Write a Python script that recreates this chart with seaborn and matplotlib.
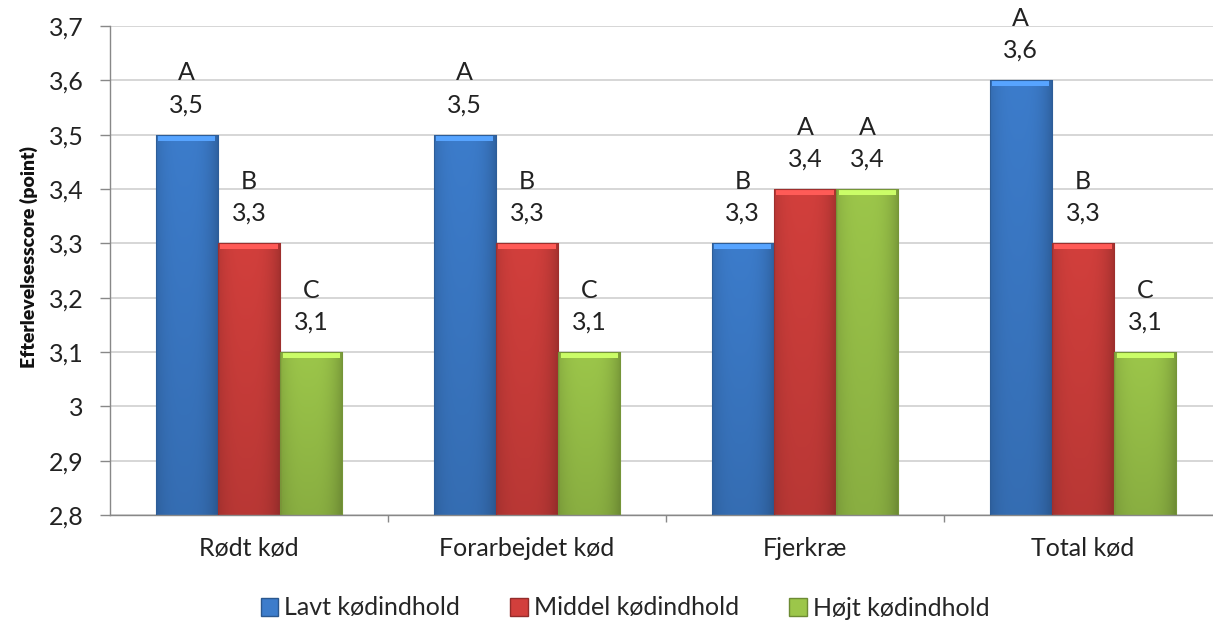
import numpy as np
import pandas as pd
import matplotlib
matplotlib.use("Agg")
import matplotlib.pyplot as plt
import matplotlib.colors as mcolors
from matplotlib.patches import Rectangle
import seaborn as sns

categories = ["Rødt kød", "Forarbejdet kød", "Fjerkræ", "Total kød"]
series = ["Lavt kødindhold", "Middel kødindhold", "Højt kødindhold"]
lavt = [3.5, 3.5, 3.3, 3.6]
middel = [3.3, 3.3, 3.4, 3.3]
hojt = [3.1, 3.1, 3.4, 3.1]
letters_lavt = ["A", "A", "B", "A"]
letters_middel = ["B", "B", "A", "B"]
letters_hojt = ["C", "C", "A", "C"]
y_ticks = [2.8, 2.9, 3.0, 3.1, 3.2, 3.3, 3.4, 3.5, 3.6, 3.7]
y_tick_labels = ["2,8", "2,9", "3", "3,1", "3,2", "3,3", "3,4", "3,5", "3,6", "3,7"]
ylabel = "Efterlevelsesscore (point)"
colors = ["#3C7CCB", "#D23F3C", "#9CC64A"]

rows = []
for s, vals, lets in zip(series, [lavt, middel, hojt],
                         [letters_lavt, letters_middel, letters_hojt]):
    for c, v, l in zip(categories, vals, lets):
        rows.append({"Kategori": c, "Serie": s, "Værdi": v, "Bogstav": l})
df = pd.DataFrame(rows)

sns.set_theme(style="white")
plt.rcParams["font.family"] = ["Lato", "DejaVu Sans"]

FS = 18

fig = plt.figure(figsize=(12.13, 6.23), dpi=100)
ax = fig.add_axes([110 / 1213, 1 - 515 / 623, 1112 / 1213, (515 - 26) / 623])

sns.barplot(data=df, x="Kategori", y="Værdi", hue="Serie", order=categories,
            hue_order=series, palette=colors, width=0.672, ax=ax,
            legend=True, saturation=1, zorder=2)

ax.set_ylim(2.8, 3.7)
ax.set_xlim(-0.5, 3.5)
ax.set_yticks(y_ticks)
ax.set_yticklabels(y_tick_labels)
ax.yaxis.grid(True, color="#D0D0D0", linewidth=1.2, zorder=0)
ax.set_axisbelow(True)


def shade(color, edge_dark=0.78):
    rgb = np.array(mcolors.to_rgb(color))
    nx, ny = 60, 200
    xs = np.linspace(0, 1, nx)
    hx = 1.0 - (1 - edge_dark) * (np.abs(xs - 0.45) / 0.55) ** 3
    img = np.ones((ny, nx, 3))
    for i in range(3):
        img[:, :, i] = rgb[i] * hx[None, :]
    ys = np.linspace(0, 1, ny)
    vy = 1.0 - 0.12 * ys
    img = img * vy[:, None, None]
    return np.clip(img, 0, 1)


containers = list(ax.containers)
for cont in containers:
    for p in cont:
        fc = p.get_facecolor()
        x0, w = p.get_x(), p.get_width()
        y1 = p.get_y() + p.get_height()
        img = shade(fc)
        im = ax.imshow(img, extent=[x0, x0 + w, 2.8, y1], aspect="auto",
                       origin="upper", zorder=2.5)
        im.set_clip_path(p)
        bev = 0.011
        light = np.clip(np.array(mcolors.to_rgb(fc)) * 1.2 + 0.06, 0, 1)
        ax.add_patch(Rectangle((x0 + w * 0.04, y1 - bev), w * 0.92, bev,
                               facecolor=light, edgecolor="none", zorder=2.6))
        p.set_edgecolor(tuple(np.array(mcolors.to_rgb(fc)) * 0.75))
        p.set_linewidth(0.8)
        p.set_zorder(2.7)
        p.set_facecolor("none")

ax.set_xlim(-0.5, 3.5)
ax.set_ylim(2.8, 3.7)

for cont, vals, lets in zip(containers, [lavt, middel, hojt],
                            [letters_lavt, letters_middel, letters_hojt]):
    for bar, v, l in zip(cont, vals, lets):
        xc = bar.get_x() + bar.get_width() / 2
        top = bar.get_y() + bar.get_height()
        ax.annotate(str(v).replace(".", ","), (xc, top), xytext=(0, 30),
                    textcoords="offset pixels", ha="center", va="center",
                    fontsize=FS, color="#222222")
        ax.annotate(l, (xc, top), xytext=(0, 62), textcoords="offset pixels",
                    ha="center", va="center", fontsize=FS, color="#222222")

for s in ["top", "right"]:
    ax.spines[s].set_visible(False)
for s in ["left", "bottom"]:
    ax.spines[s].set_color("#888888")
    ax.spines[s].set_linewidth(1.0)

ax.tick_params(axis="y", which="major", direction="out", length=7, width=1,
               color="#888888", labelsize=FS, labelcolor="#222222", pad=12, left=True)
ax.set_xticks([0.5, 1.5, 2.5, 3.5], minor=True)
ax.tick_params(axis="x", which="minor", direction="out", length=5, width=1,
               color="#888888", bottom=True)
ax.tick_params(axis="x", which="major", length=0, labelsize=FS,
               labelcolor="#222222", pad=16)
ax.set_xlabel("")
ax.set_ylabel(ylabel, fontsize=14, fontweight="heavy", color="#111111")
ax.yaxis.set_label_coords(-0.073, 0.528)
ax.yaxis.label.set_va("center")

leg = ax.legend(loc="center", bbox_to_anchor=(625 / 1213, 1 - 608 / 623),
                bbox_transform=fig.transFigure, ncol=3, frameon=False,
                fontsize=FS, handlelength=0.7, handleheight=0.7,
                handletextpad=0.25, columnspacing=2.0)
for h, c in zip(leg.legend_handles, colors):
    h.set_facecolor(c)
    h.set_edgecolor(tuple(np.array(mcolors.to_rgb(c)) * 0.7))

fig.savefig("out.png", dpi=100, facecolor="white")
